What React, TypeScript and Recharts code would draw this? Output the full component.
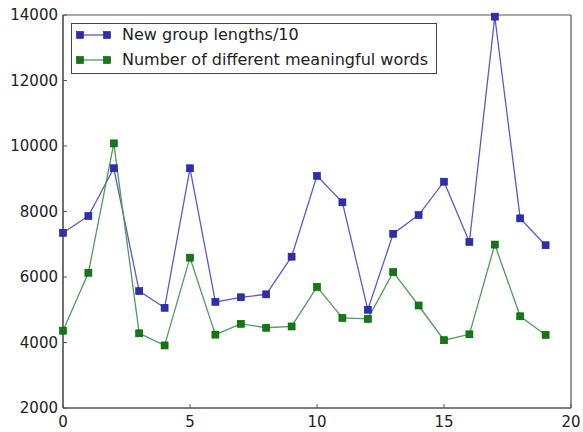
import React from 'react';
import { LineChart, Line, XAxis, YAxis, Legend, CartesianGrid } from 'recharts';

const xValues = [0, 1, 2, 3, 4, 5, 6, 7, 8, 9, 10, 11, 12, 13, 14, 15, 16, 17, 18, 19];
const groupLengths = [7350, 7860, 9320, 5570, 5060, 9320, 5240, 5380, 5470, 6620, 9090, 8280, 5000, 7320, 7890, 8910, 7070, 13950, 7790, 6970];
const meaningfulWords = [4360, 6130, 10080, 4280, 3910, 6590, 4240, 4570, 4450, 4490, 5700, 4750, 4720, 6150, 5130, 4070, 4250, 6990, 4800, 4230];
const xTicks = [0, 5, 10, 15, 20];
const yTicks = [2000, 4000, 6000, 8000, 10000, 12000, 14000];
const seriesNames = ['New group lengths/10', 'Number of different meaningful words'];

const data = xValues.map((x, i) => ({ x, a: groupLengths[i], b: meaningfulWords[i] }));

const BLUE_LINE = '#5a5ad0';
const BLUE_MARK = '#2e2eb0';
const BLUE_EDGE = '#1e1e80';
const GREEN_LINE = '#4e9c5c';
const GREEN_MARK = '#127a12';
const GREEN_EDGE = '#0a500a';
const FONT = '"DejaVu Sans", sans-serif';
const TEXT = '#222';
const FRAME = '#555';

const makeDot = (fill: string, stroke: string) => (props: any) => {
  const { cx, cy, index } = props;
  if (cx == null || cy == null) return <g key={index} />;
  return <rect key={index} x={cx - 3.5} y={cy - 3.5} width={7} height={7} fill={fill} stroke={stroke} strokeWidth={0.6} />;
};

const XTick = (props: any) => {
  const { x, y, payload } = props;
  return (
    <g>
      <line x1={x} y1={y} x2={x} y2={y - 4} stroke={FRAME} strokeWidth={1} />
      <text x={x} y={y + 18.5} textAnchor="middle" fontSize={15} fontFamily={FONT} fill={TEXT}>{payload.value}</text>
    </g>
  );
};

const YTick = (props: any) => {
  const { x, y, payload } = props;
  return (
    <g>
      <line x1={x} y1={y} x2={x + 4} y2={y} stroke={FRAME} strokeWidth={1} />
      <text x={x - 5} y={y + 5} textAnchor="end" fontSize={15} fontFamily={FONT} fill={TEXT}>{payload.value}</text>
    </g>
  );
};

const LegendContent = () => {
  const rows = [
    { name: seriesNames[0], line: BLUE_LINE, fill: BLUE_MARK, edge: BLUE_EDGE, top: 0 },
    { name: seriesNames[1], line: GREEN_LINE, fill: GREEN_MARK, edge: GREEN_EDGE, top: 25 },
  ];
  return (
    <div style={{ position: 'relative', border: '1.5px solid #444', background: '#fff', width: 366, height: 51, boxSizing: 'border-box' }}>
      {rows.map((r) => (
        <div key={r.name} style={{ position: 'absolute', left: 0, top: r.top, display: 'flex', alignItems: 'center', height: 22 }}>
          <svg width={48} height={22} style={{ display: 'block' }}>
            <line x1={8} y1={11} x2={35} y2={11} stroke={r.line} strokeWidth={1.3} />
            <rect x={4.5} y={7.5} width={7} height={7} fill={r.fill} stroke={r.edge} strokeWidth={0.6} />
            <rect x={31.5} y={7.5} width={7} height={7} fill={r.fill} stroke={r.edge} strokeWidth={0.6} />
          </svg>
          <span style={{ fontFamily: FONT, fontSize: 16, color: TEXT, marginLeft: 2, whiteSpace: 'nowrap', lineHeight: '22px' }}>{r.name}</span>
        </div>
      ))}
    </div>
  );
};

export default function App() {
  return (
    <div style={{ position: 'absolute', left: 0, top: 0, width: 583, height: 432, background: '#fff' }}>
      <LineChart width={583} height={432} data={data} margin={{ top: 15, right: 12, bottom: 0, left: 0 }}>
        <CartesianGrid
          stroke={FRAME}
          strokeWidth={1.2}
          horizontalCoordinatesGenerator={({ offset }: any) => [offset.top, offset.top + offset.height]}
          verticalCoordinatesGenerator={({ offset }: any) => [offset.left, offset.left + offset.width]}
        />
        <XAxis
          dataKey="x"
          type="number"
          domain={[0, 20]}
          ticks={xTicks}
          height={24}
          tickSize={0}
          tickMargin={0}
          tickLine={false}
          axisLine={{ stroke: FRAME, strokeWidth: 1.2 }}
          tick={<XTick />}
          interval={0}
        />
        <XAxis
          xAxisId="top"
          orientation="top"
          type="number"
          domain={[0, 20]}
          ticks={xTicks}
          height={0}
          mirror
          tick={false}
          tickSize={4}
          tickLine={{ stroke: FRAME }}
          axisLine={false}
        />
        <YAxis
          type="number"
          domain={[2000, 14000]}
          ticks={yTicks}
          width={63}
          tickSize={0}
          tickMargin={0}
          tickLine={false}
          axisLine={{ stroke: FRAME, strokeWidth: 1.2 }}
          tick={<YTick />}
          interval={0}
        />
        <YAxis
          yAxisId="right"
          orientation="right"
          type="number"
          domain={[2000, 14000]}
          ticks={yTicks}
          width={0}
          mirror
          tick={false}
          tickSize={4}
          tickLine={{ stroke: FRAME }}
          axisLine={false}
        />
        <Legend
          layout="vertical"
          verticalAlign="middle"
          align="center"
          wrapperStyle={{ position: 'absolute', left: 71, top: 23, width: 366, height: 51 }}
          content={<LegendContent />}
        />
        <Line
          type="linear"
          dataKey="a"
          name={seriesNames[0]}
          stroke={BLUE_LINE}
          strokeWidth={1.3}
          dot={makeDot(BLUE_MARK, BLUE_EDGE)}
          activeDot={false}
          isAnimationActive={false}
        />
        <Line
          type="linear"
          dataKey="b"
          name={seriesNames[1]}
          stroke={GREEN_LINE}
          strokeWidth={1.3}
          dot={makeDot(GREEN_MARK, GREEN_EDGE)}
          activeDot={false}
          isAnimationActive={false}
        />
      </LineChart>
    </div>
  );
}
